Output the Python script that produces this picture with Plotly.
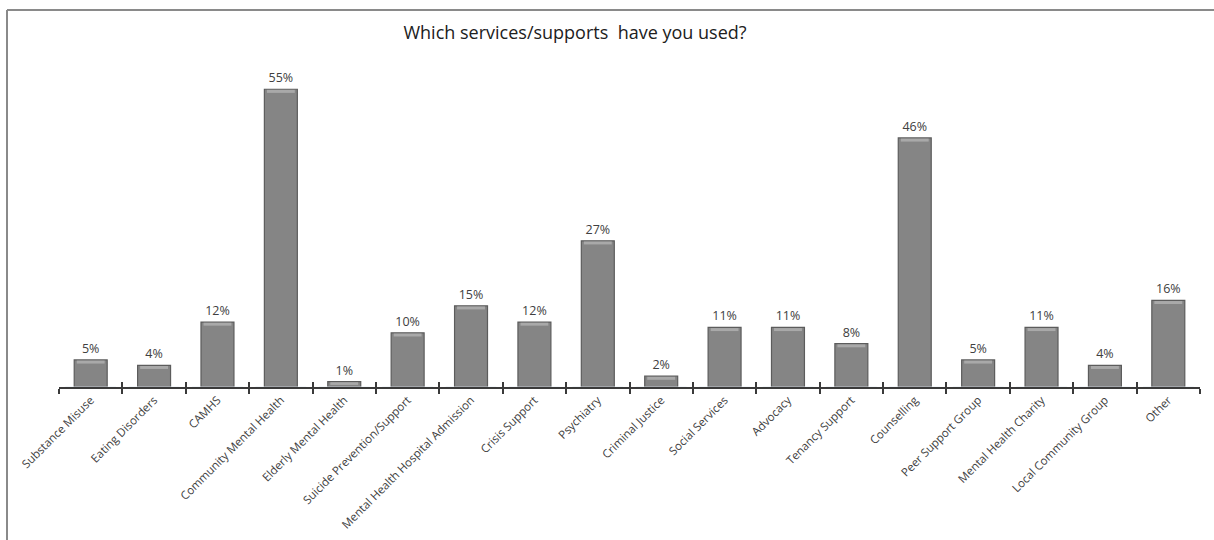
import plotly.graph_objects as go

categories = ["Substance Misuse", "Eating Disorders", "CAMHS", "Community Mental Health",
              "Elderly Mental Health", "Suicide Prevention/Support", "Mental Health Hospital Admission",
              "Crisis Support", "Psychiatry", "Criminal Justice", "Social Services", "Advocacy",
              "Tenancy Support", "Counselling", "Peer Support Group", "Mental Health Charity",
              "Local Community Group", "Other"]
values = [5, 4, 12, 55, 1, 10, 15, 12, 27, 2, 11, 11, 8, 46, 5, 11, 4, 16]
labels = [f"{v}%" for v in values]

font_family = "Open Sans, Noto Sans, sans-serif"
text_color = "#404040"
bevel = 0.55  # height (in %) of light bevel strip at bar tops

fig = go.Figure()
fig.add_trace(go.Bar(
    x=categories, y=values, text=labels, textposition="outside",
    textfont=dict(family=font_family, size=12.5, color=text_color),
    marker=dict(color="#858585", line=dict(color="#5c5c5c", width=1.2)),
    cliponaxis=False, hoverinfo="skip", width=0.52,
))
# light bevel strip at top of each bar
fig.add_trace(go.Bar(
    x=categories, y=[min(bevel, v * 0.5) for v in values],
    base=[v - min(bevel, v * 0.5) - 0.12 for v in values],
    marker=dict(color="#a9a9a9", line=dict(width=0)), width=0.44,
    hoverinfo="skip",
))
# invisible overlay trace for crossing (inside) ticks
fig.add_trace(go.Bar(x=categories, y=[0]*len(categories), xaxis="x2", showlegend=False,
                     marker=dict(color="rgba(0,0,0,0)"), hoverinfo="skip"))

fig.update_layout(
    width=1214, height=540,
    margin=dict(l=59, r=14, t=60, b=153, autoexpand=False),
    paper_bgcolor="white", plot_bgcolor="white",
    showlegend=False, barmode="overlay",
    title=dict(text="Which services/supports  have you used?", x=575/1214, xref="container",
               xanchor="center", y=1 - 33/540, yref="container", yanchor="middle",
               font=dict(family=font_family, size=18, color="#202020")),
    xaxis=dict(type="category", showline=True, linecolor="#3a3a3a", linewidth=2,
               ticks="outside", tickson="boundaries", ticklen=5, tickwidth=1.5,
               tickcolor="#3a3a3a", tickangle=-45, showgrid=False, automargin=False,
               tickfont=dict(family=font_family, size=11.5, color=text_color)),
    xaxis2=dict(type="category", overlaying="x", anchor="y", side="bottom",
                ticks="inside", tickson="boundaries", ticklen=5, tickwidth=1.5,
                tickcolor="#3a3a3a", showticklabels=False, showgrid=False, showline=False,
                matches="x", automargin=False),
    yaxis=dict(range=[0, 60.4], visible=False, showgrid=False, zeroline=False, automargin=False),
    shapes=[
        dict(type="line", xref="paper", yref="paper", x0=-52/1141, x1=1.02, y0=1 + 50/327, y1=1 + 50/327,
             line=dict(color="#8a8a8a", width=2)),
        dict(type="line", xref="paper", yref="paper", x0=-52/1141, x1=-52/1141, y0=1 + 50/327, y1=-0.5,
             line=dict(color="#8a8a8a", width=2)),
    ],
)

fig.write_html("out.html")
